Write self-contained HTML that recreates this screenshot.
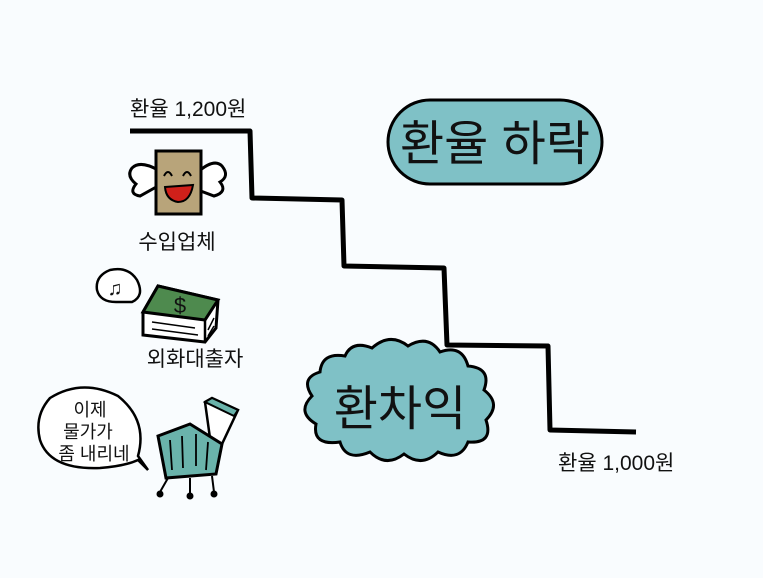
<!DOCTYPE html>
<html><head><meta charset="utf-8"><style>
html,body{margin:0;padding:0;background:#f9fcfe}
svg{display:block}
text{font-family:"Liberation Sans","Noto Sans CJK KR","NanumGothic",sans-serif;fill:#111}
</style></head><body>
<svg width="763" height="578" viewBox="0 0 763 578" xmlns="http://www.w3.org/2000/svg">
<rect width="763" height="578" fill="#f9fcfe"/>
<path d="M130 131 L250 131 L252 198 L342 200 L344 266 L444 268 L447 345 L548 346 L550 430 L636 432" fill="none" stroke="#000" stroke-width="5" stroke-linejoin="round"/>
<text x="130" y="116" font-size="21">환율 1,200원</text>
<text x="558" y="470" font-size="21">환율 1,000원</text>
<rect x="388" y="100" width="214" height="84" rx="42" fill="#7fc1c6" stroke="#000" stroke-width="3"/>
<text x="495" y="160" font-size="48" text-anchor="middle">환율 하락</text>
<path d="M320 372 Q322 352 345 356 Q352 340 372 348 Q390 332 408 346 Q428 334 440 352 Q462 344 468 366 Q492 368 484 390 Q502 404 486 420 Q494 444 468 442 Q460 462 438 452 Q422 468 404 454 Q386 468 370 452 Q346 462 340 442 Q312 446 316 424 Q296 412 312 396 Q300 378 320 372 Z" fill="#7fc1c6" stroke="#000" stroke-width="3"/>
<text x="400" y="425" font-size="48" text-anchor="middle">환차익</text>
<path d="M158 170 Q140 160 132 168 Q126 176 136 184 Q128 194 140 196 L158 186" fill="#fff" stroke="#000" stroke-width="3"/>
<path d="M198 172 Q214 158 222 166 Q230 176 220 182 Q228 192 214 196 L198 190" fill="#fff" stroke="#000" stroke-width="3"/>
<rect x="156" y="151" width="45" height="63" fill="#b8a47a" stroke="#000" stroke-width="3"/>
<path d="M164 176 q4 -8 8 0 M183 176 q4 -8 8 0" fill="none" stroke="#000" stroke-width="2"/>
<path d="M165 187 L193 185 Q190 202 178 202 Q166 200 165 187 Z" fill="#d0201a" stroke="#000" stroke-width="2"/>
<text x="177" y="249" font-size="21" text-anchor="middle">수입업체</text>
<path d="M132 302 Q145 296 137 280 Q128 266 110 270 Q95 276 97 290 Q100 302 116 302 Q126 302 132 302 Z" fill="#fff" stroke="#000" stroke-width="2.5"/>
<text x="115" y="295" font-size="20" text-anchor="middle">♫</text>
<path d="M143 312 L143 335 L205 342 L216 328 L218 300 L158 286 Z" fill="#fff" stroke="#000" stroke-width="3"/>
<path d="M143 312 L158 286 L218 300 L205 320 Z" fill="#4e8a4e" stroke="#000" stroke-width="3"/>
<path d="M205 320 L205 342" stroke="#000" stroke-width="2.5"/>
<path d="M152 322 L195 328 M152 329 L198 335 M208 330 L214 318 M208 336 L214 326" stroke="#000" stroke-width="1.5"/>
<text x="180" y="313" font-size="22" text-anchor="middle">$</text>
<text x="195" y="366" font-size="21" text-anchor="middle">외화대출자</text>
<path d="M148 470 L138 456 Q148 420 118 396 Q82 378 50 398 Q34 416 40 440 Q50 470 100 468 Q125 466 138 460 Z" fill="#fff" stroke="#000" stroke-width="2.5"/>
<text x="90" y="416" font-size="18" text-anchor="middle">이제</text>
<text x="88" y="438" font-size="18" text-anchor="middle">물가가</text>
<text x="94" y="460" font-size="18" text-anchor="middle">좀 내리네</text>
<path d="M205 402 L212 398 L238 410 L222 444 L210 438 Z" fill="#fff" stroke="#000" stroke-width="2.5"/>
<path d="M205 402 L212 398 L238 410 L234 416 Z" fill="#6ab3ab" stroke="#000" stroke-width="2"/>
<path d="M158 436 L190 424 L222 444 L216 474 L166 478 Z" fill="#6ab3ab" stroke="#000" stroke-width="3"/>
<path d="M170 440 L172 470 M182 436 L183 468 M196 434 L196 466 M208 442 L206 470" stroke="#000" stroke-width="1.8"/>
<path d="M168 478 L160 492 M190 478 L190 494 M212 476 L214 492" stroke="#000" stroke-width="2"/>
<circle cx="160" cy="494" r="3.5" fill="#000"/><circle cx="190" cy="496" r="3.5" fill="#000"/><circle cx="214" cy="494" r="3.5" fill="#000"/>
</svg>
</body></html>
